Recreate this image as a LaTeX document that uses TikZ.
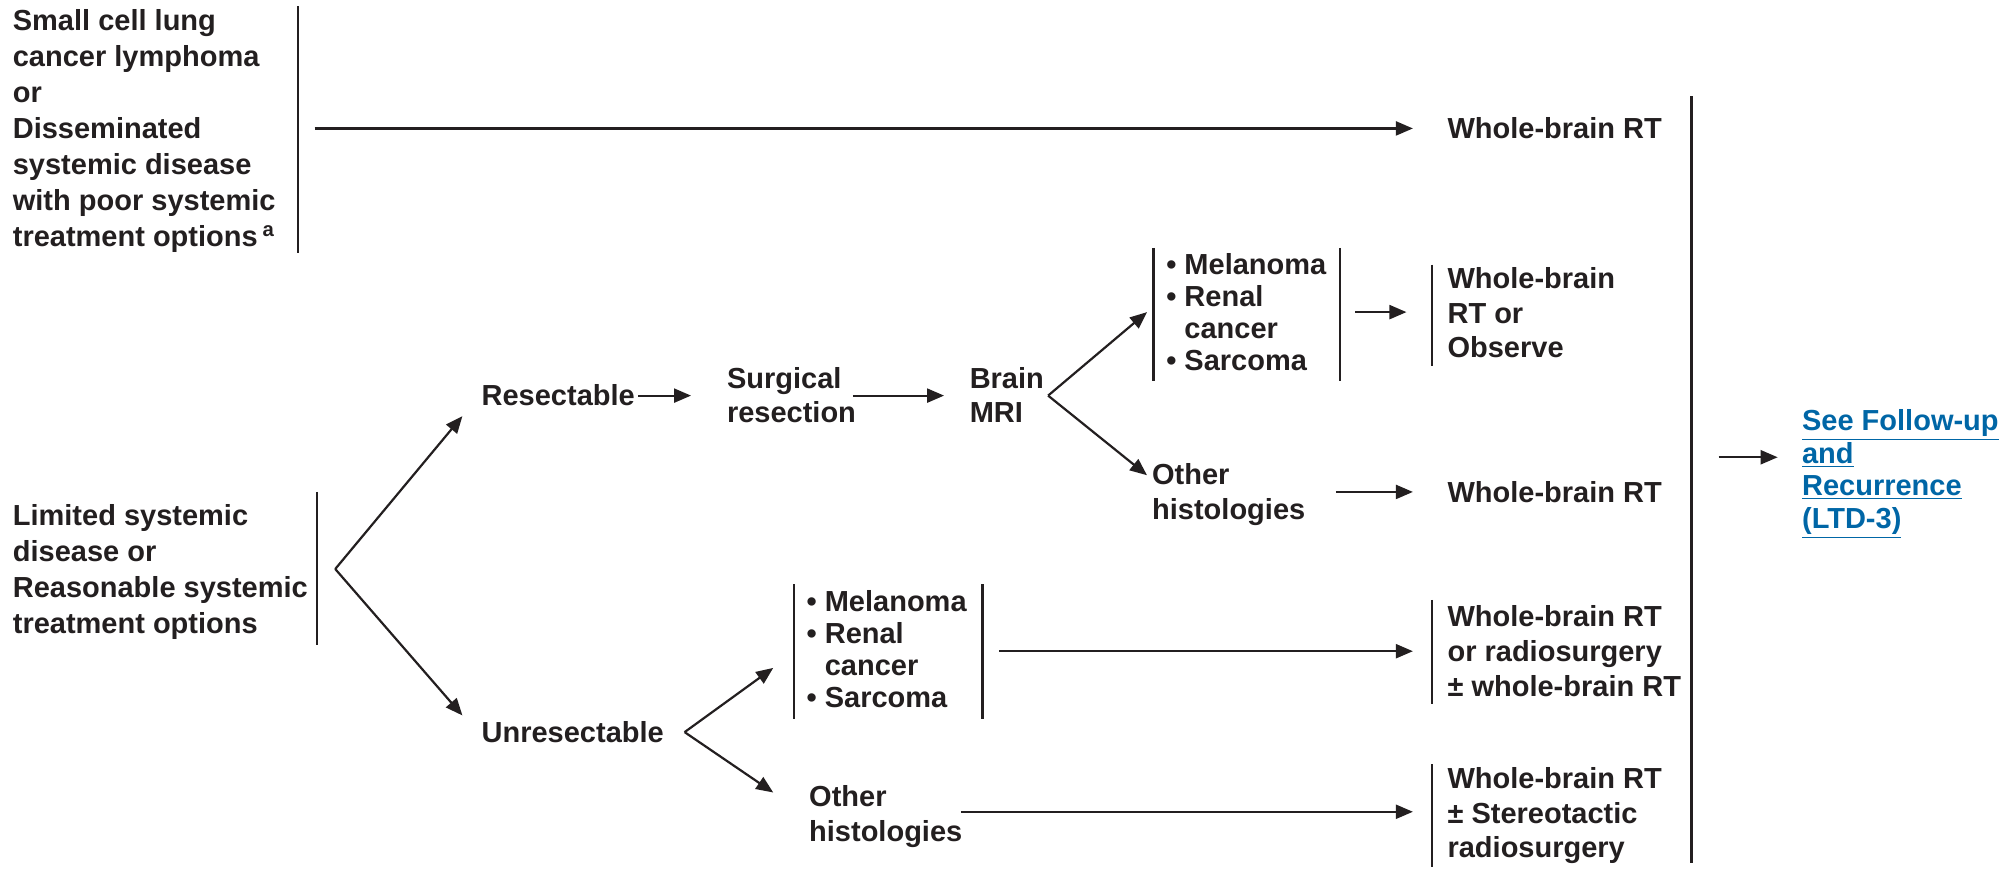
\documentclass[tikz,border=0pt]{standalone}
\usepackage{fontspec}
\setmainfont{Liberation Sans}
\usetikzlibrary{arrows.meta}
\definecolor{ink}{RGB}{35,31,32}
\definecolor{linkblue}{RGB}{0,102,166}
\begin{document}
\begin{tikzpicture}[x=0.6422pt,y=-0.6422pt,
  every node/.style={inner sep=0pt, outer sep=0pt, text=ink, align=left, anchor=west,
    font=\bfseries\fontsize{14.5}{18}\selectfont},
  list/.style={font=\bfseries\fontsize{14.5}{15.9}\selectfont},
  mid/.style={font=\bfseries\fontsize{14.5}{17.3}\selectfont},
  link/.style={text=linkblue, font=\bfseries\fontsize{14.5}{16.3}\selectfont},
  bar/.style={draw=ink, line width=1.15pt},
  arr/.style={draw=ink, line width=1.1pt, -{Triangle[length=8.5pt,width=7pt]}},
]
\useasboundingbox (0,0) rectangle (1568,676);

% ---------- text blocks ----------
\node (poor) at (10,102) {Small cell lung\\cancer lymphoma\\or\\Disseminated\\systemic disease\\with poor systemic\\treatment options\,\textsuperscript{a}};
\node (lim) at (10,445.5) {Limited systemic\\disease or\\Reasonable systemic\\treatment options};
\node (res) at (375,308) {Resectable};
\node[mid] (surg) at (566,307.5) {Surgical\\resection};
\node[mid] (mri) at (755,307.5) {Brain\\MRI};
\node[list] (mel1) at (908,243) {\textbullet\ Melanoma\\\textbullet\ Renal\\\hphantom{\textbullet\ }cancer\\\textbullet\ Sarcoma};
\node[mid] (obs) at (1127,243.5) {Whole-brain\\RT or\\Observe};
\node[mid] (oth1) at (897,385) {Other\\histologies};
\node (wb2) at (1127,383) {Whole-brain RT};
\node (wb1) at (1127,100) {Whole-brain RT};
\node (unres) at (375,570) {Unresectable};
\node[list] (mel2) at (628,505.5) {\textbullet\ Melanoma\\\textbullet\ Renal\\\hphantom{\textbullet\ }cancer\\\textbullet\ Sarcoma};
\node[mid] (rs) at (1127,507) {Whole-brain RT\\or radiosurgery\\±\ whole-brain RT};
\node[mid] (oth2) at (630,635.5) {Other\\histologies};
\node[mid] (srs) at (1127,635) {Whole-brain RT\\±\ Stereotactic\\radiosurgery};
\node[link] (fu) at (1403,369) {\underline{See Follow-up}\\\underline{and}\\\underline{Recurrence}\\\underline{(LTD-3)}};

% ---------- brackets ----------
\draw[bar] (232,5) -- (232,197);
\draw[bar] (247,383) -- (247,502);
\draw[bar] (898,193) -- (898,297);
\draw[bar] (1043,193) -- (1043,297);
\draw[bar] (1115,206) -- (1115,285);
\draw[bar] (618,455) -- (618,560);
\draw[bar] (765,455) -- (765,560);
\draw[bar] (1115,467) -- (1115,548);
\draw[bar] (1115,595) -- (1115,675);
\draw[bar] (1317,75) -- (1317,672);

% ---------- connector end points ----------
\coordinate (a0) at (245,100);   \coordinate (a1) at (1100,100);
\coordinate (v1) at (261,443);
\coordinate (r0) at (360,324);   \coordinate (u0) at (360,557);
\coordinate (s0) at (497,308);   \coordinate (s1) at (538,308);
\coordinate (m0) at (664,308);   \coordinate (m1) at (735,308);
\coordinate (v2) at (816,308);
\coordinate (t1) at (893,243);   \coordinate (t2) at (893,370);
\coordinate (o0) at (1055,243);  \coordinate (o1) at (1095,243);
\coordinate (h0) at (1040,383);  \coordinate (h1) at (1100,383);
\coordinate (v3) at (533,570);
\coordinate (b1) at (602,520);   \coordinate (b2) at (602,617);
\coordinate (g0) at (778,507);   \coordinate (g1) at (1100,507);
\coordinate (k0) at (748,632);   \coordinate (k1) at (1100,632);
\coordinate (f0) at (1338,356);  \coordinate (f1) at (1384,356);

% ---------- connectors ----------
\draw[arr] (a0) -- (a1);
\draw[arr] (v1) -- (r0);
\draw[arr] (v1) -- (u0);
\draw[arr] (s0) -- (s1);
\draw[arr] (m0) -- (m1);
\draw[arr] (v2) -- (t1);
\draw[arr] (v2) -- (t2);
\draw[arr] (o0) -- (o1);
\draw[arr] (h0) -- (h1);
\draw[arr] (v3) -- (b1);
\draw[arr] (v3) -- (b2);
\draw[arr] (g0) -- (g1);
\draw[arr] (k0) -- (k1);
\draw[arr] (f0) -- (f1);
\end{tikzpicture}
\end{document}
